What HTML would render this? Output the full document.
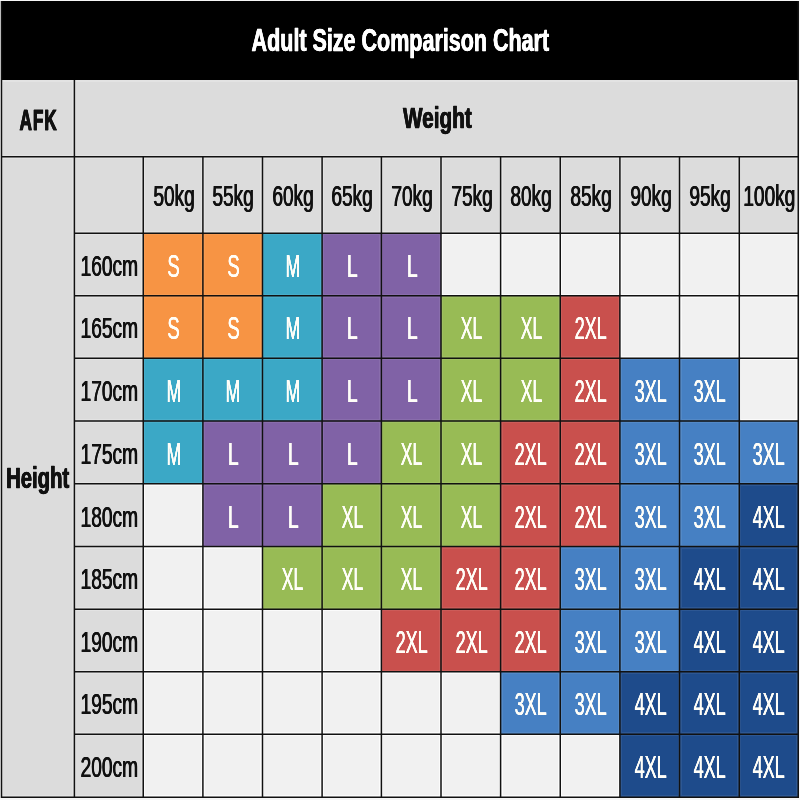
<!DOCTYPE html>
<html lang="en">
<head>
<meta charset="utf-8">
<title>Adult Size Comparison Chart</title>
<style>
html,body{margin:0;padding:0;background:#f6f6f6;}
body{width:800px;height:800px;overflow:hidden;font-family:"Liberation Sans",sans-serif;}
#chart{position:relative;width:800px;height:800px;background:#f6f6f6;overflow:hidden;}
.c{position:absolute;display:flex;align-items:center;justify-content:center;white-space:nowrap;overflow:visible;}
.c span{display:inline-block;line-height:1;transform-origin:50% 50%;}
#grid{position:absolute;left:0;top:0;display:block;pointer-events:none;}
.bar{background:#000;color:#fff;}
.g{background:#dcdcdc;color:#111;box-shadow:inset 0 0 0 2px rgba(255,255,255,.22);}
.e{background:#f1f1f1;box-shadow:inset 0 0 0 2px #fbfbfb;}
.s,.m,.l,.xl,.x2,.x3,.x4{box-shadow:inset 0 0 0 2px rgba(255,255,255,.07);}
.s{background:#f79444;}
.m{background:#3ba8c6;}
.l{background:#8062a6;}
.xl{background:#98bb55;}
.x2{background:#c9504d;}
.x3{background:#4680c3;}
.x4{background:#1e4b8b;}
.t-title{font-weight:bold;font-size:32px;transform:translate(0px,-1.3px) scale(0.672,1);-webkit-text-stroke:0.3px #fff;text-shadow:0.4px 0 #fff,-0.4px 0 #fff;}
.t-afk{font-weight:bold;font-size:28.8px;letter-spacing:1.6px;margin-right:-1.6px;transform:translate(0.6px,1.3px) scale(0.595,1.03);-webkit-text-stroke:0.8px #111;text-shadow:0.6px 0 #111,-0.6px 0 #111;}
.t-weight{font-weight:bold;font-size:30.4px;transform:translate(1px,-1px) scale(0.682,1);-webkit-text-stroke:0.6px #111;text-shadow:0.5px 0 #111,-0.5px 0 #111;}
.t-height{font-weight:bold;font-size:29.8px;transform:translate(0.3px,1px) scale(0.68,1);-webkit-text-stroke:0.6px #111;text-shadow:0.5px 0 #111,-0.5px 0 #111;}
.t-col{font-size:29.6px;transform:translate(1px,1.2px) scale(0.645,1);-webkit-text-stroke:0.15px #111;text-shadow:0.55px 0 #111,-0.55px 0 #111;}
.t-row{font-size:29.8px;transform:translate(0.6px,1.2px) scale(0.642,1);-webkit-text-stroke:0.15px #111;text-shadow:0.5px 0 #111,-0.5px 0 #111;}
.t-cell{font-size:29.4px;color:#fffef8;text-shadow:0.2px 0 #fffef8,-0.2px 0 #fffef8;transform:translate(0.5px,1.5px) scale(0.612,1.05);}
.t-s{transform:translate(0.8px,1.5px) scale(0.625,1.05);}
.t-m{transform:translate(0.6px,1.5px) scale(0.60,1.05);}
.t-l{transform:translate(1.2px,1.5px) scale(0.66,1.05);}
.t-xl{transform:translate(0.5px,1.5px) scale(0.60,1.05);}

</style>
</head>
<body>
<div id="chart">
<div class="c bar" style="left:1px;top:1px;width:798px;height:79px"><span class="t-title">Adult Size Comparison Chart</span></div>
<div class="c g" style="left:1px;top:80px;width:73px;height:77px"><span class="t-afk">AFK</span></div>
<div class="c g" style="left:74px;top:80px;width:724px;height:77px"><span class="t-weight">Weight</span></div>
<div class="c g" style="left:1px;top:157px;width:73px;height:640px"><span class="t-height">Height</span></div>
<div class="c g" style="left:74px;top:157px;width:69px;height:76px"></div>
<div class="c g" style="left:143px;top:157px;width:60px;height:76px"><span class="t-col">50kg</span></div>
<div class="c g" style="left:203px;top:157px;width:59px;height:76px"><span class="t-col">55kg</span></div>
<div class="c g" style="left:262px;top:157px;width:60px;height:76px"><span class="t-col">60kg</span></div>
<div class="c g" style="left:322px;top:157px;width:59px;height:76px"><span class="t-col">65kg</span></div>
<div class="c g" style="left:381px;top:157px;width:60px;height:76px"><span class="t-col">70kg</span></div>
<div class="c g" style="left:441px;top:157px;width:60px;height:76px"><span class="t-col">75kg</span></div>
<div class="c g" style="left:501px;top:157px;width:59px;height:76px"><span class="t-col">80kg</span></div>
<div class="c g" style="left:560px;top:157px;width:60px;height:76px"><span class="t-col">85kg</span></div>
<div class="c g" style="left:620px;top:157px;width:60px;height:76px"><span class="t-col">90kg</span></div>
<div class="c g" style="left:680px;top:157px;width:59px;height:76px"><span class="t-col">95kg</span></div>
<div class="c g" style="left:739px;top:157px;width:59px;height:76px"><span class="t-col">100kg</span></div>
<div class="c g" style="left:74px;top:233px;width:69px;height:63px"><span class="t-row">160cm</span></div>
<div class="c s" style="left:143px;top:233px;width:60px;height:63px"><span class="t-s t-cell">S</span></div>
<div class="c s" style="left:203px;top:233px;width:59px;height:63px"><span class="t-s t-cell">S</span></div>
<div class="c m" style="left:262px;top:233px;width:60px;height:63px"><span class="t-m t-cell">M</span></div>
<div class="c l" style="left:322px;top:233px;width:59px;height:63px"><span class="t-l t-cell">L</span></div>
<div class="c l" style="left:381px;top:233px;width:60px;height:63px"><span class="t-l t-cell">L</span></div>
<div class="c e" style="left:441px;top:233px;width:60px;height:63px"></div>
<div class="c e" style="left:501px;top:233px;width:59px;height:63px"></div>
<div class="c e" style="left:560px;top:233px;width:60px;height:63px"></div>
<div class="c e" style="left:620px;top:233px;width:60px;height:63px"></div>
<div class="c e" style="left:680px;top:233px;width:59px;height:63px"></div>
<div class="c e" style="left:739px;top:233px;width:59px;height:63px"></div>
<div class="c g" style="left:74px;top:296px;width:69px;height:62px"><span class="t-row">165cm</span></div>
<div class="c s" style="left:143px;top:296px;width:60px;height:62px"><span class="t-s t-cell">S</span></div>
<div class="c s" style="left:203px;top:296px;width:59px;height:62px"><span class="t-s t-cell">S</span></div>
<div class="c m" style="left:262px;top:296px;width:60px;height:62px"><span class="t-m t-cell">M</span></div>
<div class="c l" style="left:322px;top:296px;width:59px;height:62px"><span class="t-l t-cell">L</span></div>
<div class="c l" style="left:381px;top:296px;width:60px;height:62px"><span class="t-l t-cell">L</span></div>
<div class="c xl" style="left:441px;top:296px;width:60px;height:62px"><span class="t-xl t-cell">XL</span></div>
<div class="c xl" style="left:501px;top:296px;width:59px;height:62px"><span class="t-xl t-cell">XL</span></div>
<div class="c x2" style="left:560px;top:296px;width:60px;height:62px"><span class="t-x2 t-cell">2XL</span></div>
<div class="c e" style="left:620px;top:296px;width:60px;height:62px"></div>
<div class="c e" style="left:680px;top:296px;width:59px;height:62px"></div>
<div class="c e" style="left:739px;top:296px;width:59px;height:62px"></div>
<div class="c g" style="left:74px;top:358px;width:69px;height:63px"><span class="t-row">170cm</span></div>
<div class="c m" style="left:143px;top:358px;width:60px;height:63px"><span class="t-m t-cell">M</span></div>
<div class="c m" style="left:203px;top:358px;width:59px;height:63px"><span class="t-m t-cell">M</span></div>
<div class="c m" style="left:262px;top:358px;width:60px;height:63px"><span class="t-m t-cell">M</span></div>
<div class="c l" style="left:322px;top:358px;width:59px;height:63px"><span class="t-l t-cell">L</span></div>
<div class="c l" style="left:381px;top:358px;width:60px;height:63px"><span class="t-l t-cell">L</span></div>
<div class="c xl" style="left:441px;top:358px;width:60px;height:63px"><span class="t-xl t-cell">XL</span></div>
<div class="c xl" style="left:501px;top:358px;width:59px;height:63px"><span class="t-xl t-cell">XL</span></div>
<div class="c x2" style="left:560px;top:358px;width:60px;height:63px"><span class="t-x2 t-cell">2XL</span></div>
<div class="c x3" style="left:620px;top:358px;width:60px;height:63px"><span class="t-x3 t-cell">3XL</span></div>
<div class="c x3" style="left:680px;top:358px;width:59px;height:63px"><span class="t-x3 t-cell">3XL</span></div>
<div class="c e" style="left:739px;top:358px;width:59px;height:63px"></div>
<div class="c g" style="left:74px;top:421px;width:69px;height:63px"><span class="t-row">175cm</span></div>
<div class="c m" style="left:143px;top:421px;width:60px;height:63px"><span class="t-m t-cell">M</span></div>
<div class="c l" style="left:203px;top:421px;width:59px;height:63px"><span class="t-l t-cell">L</span></div>
<div class="c l" style="left:262px;top:421px;width:60px;height:63px"><span class="t-l t-cell">L</span></div>
<div class="c l" style="left:322px;top:421px;width:59px;height:63px"><span class="t-l t-cell">L</span></div>
<div class="c xl" style="left:381px;top:421px;width:60px;height:63px"><span class="t-xl t-cell">XL</span></div>
<div class="c xl" style="left:441px;top:421px;width:60px;height:63px"><span class="t-xl t-cell">XL</span></div>
<div class="c x2" style="left:501px;top:421px;width:59px;height:63px"><span class="t-x2 t-cell">2XL</span></div>
<div class="c x2" style="left:560px;top:421px;width:60px;height:63px"><span class="t-x2 t-cell">2XL</span></div>
<div class="c x3" style="left:620px;top:421px;width:60px;height:63px"><span class="t-x3 t-cell">3XL</span></div>
<div class="c x3" style="left:680px;top:421px;width:59px;height:63px"><span class="t-x3 t-cell">3XL</span></div>
<div class="c x3" style="left:739px;top:421px;width:59px;height:63px"><span class="t-x3 t-cell">3XL</span></div>
<div class="c g" style="left:74px;top:484px;width:69px;height:63px"><span class="t-row">180cm</span></div>
<div class="c e" style="left:143px;top:484px;width:60px;height:63px"></div>
<div class="c l" style="left:203px;top:484px;width:59px;height:63px"><span class="t-l t-cell">L</span></div>
<div class="c l" style="left:262px;top:484px;width:60px;height:63px"><span class="t-l t-cell">L</span></div>
<div class="c xl" style="left:322px;top:484px;width:59px;height:63px"><span class="t-xl t-cell">XL</span></div>
<div class="c xl" style="left:381px;top:484px;width:60px;height:63px"><span class="t-xl t-cell">XL</span></div>
<div class="c xl" style="left:441px;top:484px;width:60px;height:63px"><span class="t-xl t-cell">XL</span></div>
<div class="c x2" style="left:501px;top:484px;width:59px;height:63px"><span class="t-x2 t-cell">2XL</span></div>
<div class="c x2" style="left:560px;top:484px;width:60px;height:63px"><span class="t-x2 t-cell">2XL</span></div>
<div class="c x3" style="left:620px;top:484px;width:60px;height:63px"><span class="t-x3 t-cell">3XL</span></div>
<div class="c x3" style="left:680px;top:484px;width:59px;height:63px"><span class="t-x3 t-cell">3XL</span></div>
<div class="c x4" style="left:739px;top:484px;width:59px;height:63px"><span class="t-x4 t-cell">4XL</span></div>
<div class="c g" style="left:74px;top:547px;width:69px;height:62px"><span class="t-row">185cm</span></div>
<div class="c e" style="left:143px;top:547px;width:60px;height:62px"></div>
<div class="c e" style="left:203px;top:547px;width:59px;height:62px"></div>
<div class="c xl" style="left:262px;top:547px;width:60px;height:62px"><span class="t-xl t-cell">XL</span></div>
<div class="c xl" style="left:322px;top:547px;width:59px;height:62px"><span class="t-xl t-cell">XL</span></div>
<div class="c xl" style="left:381px;top:547px;width:60px;height:62px"><span class="t-xl t-cell">XL</span></div>
<div class="c x2" style="left:441px;top:547px;width:60px;height:62px"><span class="t-x2 t-cell">2XL</span></div>
<div class="c x2" style="left:501px;top:547px;width:59px;height:62px"><span class="t-x2 t-cell">2XL</span></div>
<div class="c x3" style="left:560px;top:547px;width:60px;height:62px"><span class="t-x3 t-cell">3XL</span></div>
<div class="c x3" style="left:620px;top:547px;width:60px;height:62px"><span class="t-x3 t-cell">3XL</span></div>
<div class="c x4" style="left:680px;top:547px;width:59px;height:62px"><span class="t-x4 t-cell">4XL</span></div>
<div class="c x4" style="left:739px;top:547px;width:59px;height:62px"><span class="t-x4 t-cell">4XL</span></div>
<div class="c g" style="left:74px;top:609px;width:69px;height:63px"><span class="t-row">190cm</span></div>
<div class="c e" style="left:143px;top:609px;width:60px;height:63px"></div>
<div class="c e" style="left:203px;top:609px;width:59px;height:63px"></div>
<div class="c e" style="left:262px;top:609px;width:60px;height:63px"></div>
<div class="c e" style="left:322px;top:609px;width:59px;height:63px"></div>
<div class="c x2" style="left:381px;top:609px;width:60px;height:63px"><span class="t-x2 t-cell">2XL</span></div>
<div class="c x2" style="left:441px;top:609px;width:60px;height:63px"><span class="t-x2 t-cell">2XL</span></div>
<div class="c x2" style="left:501px;top:609px;width:59px;height:63px"><span class="t-x2 t-cell">2XL</span></div>
<div class="c x3" style="left:560px;top:609px;width:60px;height:63px"><span class="t-x3 t-cell">3XL</span></div>
<div class="c x3" style="left:620px;top:609px;width:60px;height:63px"><span class="t-x3 t-cell">3XL</span></div>
<div class="c x4" style="left:680px;top:609px;width:59px;height:63px"><span class="t-x4 t-cell">4XL</span></div>
<div class="c x4" style="left:739px;top:609px;width:59px;height:63px"><span class="t-x4 t-cell">4XL</span></div>
<div class="c g" style="left:74px;top:672px;width:69px;height:62px"><span class="t-row">195cm</span></div>
<div class="c e" style="left:143px;top:672px;width:60px;height:62px"></div>
<div class="c e" style="left:203px;top:672px;width:59px;height:62px"></div>
<div class="c e" style="left:262px;top:672px;width:60px;height:62px"></div>
<div class="c e" style="left:322px;top:672px;width:59px;height:62px"></div>
<div class="c e" style="left:381px;top:672px;width:60px;height:62px"></div>
<div class="c e" style="left:441px;top:672px;width:60px;height:62px"></div>
<div class="c x3" style="left:501px;top:672px;width:59px;height:62px"><span class="t-x3 t-cell">3XL</span></div>
<div class="c x3" style="left:560px;top:672px;width:60px;height:62px"><span class="t-x3 t-cell">3XL</span></div>
<div class="c x4" style="left:620px;top:672px;width:60px;height:62px"><span class="t-x4 t-cell">4XL</span></div>
<div class="c x4" style="left:680px;top:672px;width:59px;height:62px"><span class="t-x4 t-cell">4XL</span></div>
<div class="c x4" style="left:739px;top:672px;width:59px;height:62px"><span class="t-x4 t-cell">4XL</span></div>
<div class="c g" style="left:74px;top:734px;width:69px;height:63px"><span class="t-row">200cm</span></div>
<div class="c e" style="left:143px;top:734px;width:60px;height:63px"></div>
<div class="c e" style="left:203px;top:734px;width:59px;height:63px"></div>
<div class="c e" style="left:262px;top:734px;width:60px;height:63px"></div>
<div class="c e" style="left:322px;top:734px;width:59px;height:63px"></div>
<div class="c e" style="left:381px;top:734px;width:60px;height:63px"></div>
<div class="c e" style="left:441px;top:734px;width:60px;height:63px"></div>
<div class="c e" style="left:501px;top:734px;width:59px;height:63px"></div>
<div class="c e" style="left:560px;top:734px;width:60px;height:63px"></div>
<div class="c x4" style="left:620px;top:734px;width:60px;height:63px"><span class="t-x4 t-cell">4XL</span></div>
<div class="c x4" style="left:680px;top:734px;width:59px;height:63px"><span class="t-x4 t-cell">4XL</span></div>
<div class="c x4" style="left:739px;top:734px;width:59px;height:63px"><span class="t-x4 t-cell">4XL</span></div>
<svg id="grid" width="800" height="800" viewBox="0 0 800 800"><path d="M1.50 1.00V797.90M798.25 1.00V797.90M74.40 80.00V797.20M143.25 156.80V797.20M202.90 156.80V797.20M262.50 156.80V797.20M322.10 156.80V797.20M381.40 156.80V797.20M441.00 156.80V797.20M500.60 156.80V797.20M560.25 156.80V797.20M619.90 156.80V797.20M679.50 156.80V797.20M739.30 156.80V797.20M1.50 156.80H798.25M74.40 233.25H798.25M74.40 295.70H798.25M74.40 358.30H798.25M74.40 420.90H798.25M74.40 483.70H798.25M74.40 546.60H798.25M74.40 609.20H798.25M74.40 671.75H798.25M74.40 734.30H798.25M0.80 797.20H798.95" fill="none" stroke="#111" stroke-width="1.5"/></svg>
</div>
</body>
</html>
